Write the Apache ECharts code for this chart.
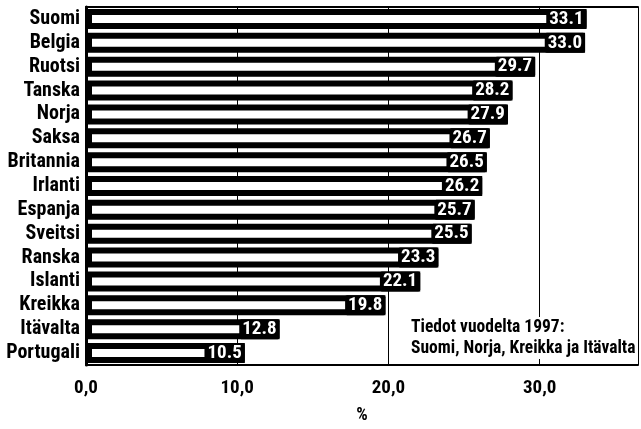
<!DOCTYPE html>
<html>
<head>
<meta charset="utf-8">
<script src="https://cdn.jsdelivr.net/npm/echarts@6/dist/echarts.min.js"></script>
<style>
html,body{margin:0;padding:0;background:#fff;}
#chart{width:641px;height:429px;}
</style>
</head>
<body>
<div id="chart"></div>
<script>
const categories = ['Suomi','Belgia','Ruotsi','Tanska','Norja','Saksa','Britannia','Irlanti','Espanja','Sveitsi','Ranska','Islanti','Kreikka','Itävalta','Portugali'];
const values = [33.1,33.0,29.7,28.2,27.9,26.7,26.5,26.2,25.7,25.5,23.3,22.1,19.8,12.8,10.5];
const xTickLabels = ['0,0','10,0','20,0','30,0'];
const axisTitle = '%';
const noteLines = ['Tiedot vuodelta 1997:','Suomi, Norja, Kreikka ja Itävalta'];

const FONT = '"Roboto Condensed", "Open Sans Condensed", "DejaVu Sans Condensed", sans-serif';

const chart = echarts.init(document.getElementById('chart'), null, {renderer:'canvas'});
chart.setOption({
  animation: false,
  backgroundColor: '#fff',
  grid: {left: 86, right: 0, top: 7, bottom: 64, containLabel: false},
  xAxis: [{
    type: 'value', min: 0, max: 36.5, interval: 10, position: 'bottom',
    axisLine: {show: true, onZero: false, lineStyle: {color: '#000', width: 2}},
    axisTick: {show: false},
    splitLine: {show: true, lineStyle: {color: '#000', width: 1}},
    axisLabel: {
      margin: 14, color: '#000', fontFamily: FONT, fontWeight: 'bold', fontSize: 19,
      formatter: function (v) { const i = Math.round(v / 10); return (Math.abs(v - i * 10) < 1e-6 && xTickLabels[i]) ? xTickLabels[i] : ''; }
    },
    name: axisTitle, nameLocation: 'middle', nameGap: 41,
    nameTextStyle: {color: '#000', fontFamily: FONT, fontWeight: 'bold', fontSize: 18}
  }, {
    type: 'value', min: 0, max: 36.5, interval: 10, position: 'top',
    axisLine: {show: true, onZero: false, lineStyle: {color: '#000', width: 2}},
    axisTick: {show: false}, axisLabel: {show: false}, splitLine: {show: false}
  }],
  yAxis: {
    type: 'category', data: categories, inverse: true,
    axisLine: {show: true, lineStyle: {color: '#000', width: 3}},
    axisTick: {show: false},
    axisLabel: {interval: 0, margin: 6, color: '#000', fontFamily: FONT, fontWeight: 'bold', fontSize: 20}
  },
  series: [{
    type: 'bar', data: values, barWidth: 20,
    itemStyle: {color: '#fff', borderColor: '#000', borderWidth: 6},
    label: {
      show: true, position: 'insideRight', distance: 0,
      formatter: function (p) { return p.value.toFixed(1); },
      color: '#fff', backgroundColor: '#000', borderRadius: 2,
      fontFamily: FONT, fontWeight: 'bold', fontSize: 19, lineHeight: 17,
      padding: [2, 3, 1, 3]
    }
  }],
  graphic: [{
    type: 'text', left: 409, top: 317, z: 100,
    style: {
      text: noteLines.join('\n'), fill: '#000', font: 'bold 17.5px ' + FONT,
      lineHeight: 21, backgroundColor: '#fff', padding: [0, 2, 0, 2]
    }
  }]
});
</script>
</body>
</html>
